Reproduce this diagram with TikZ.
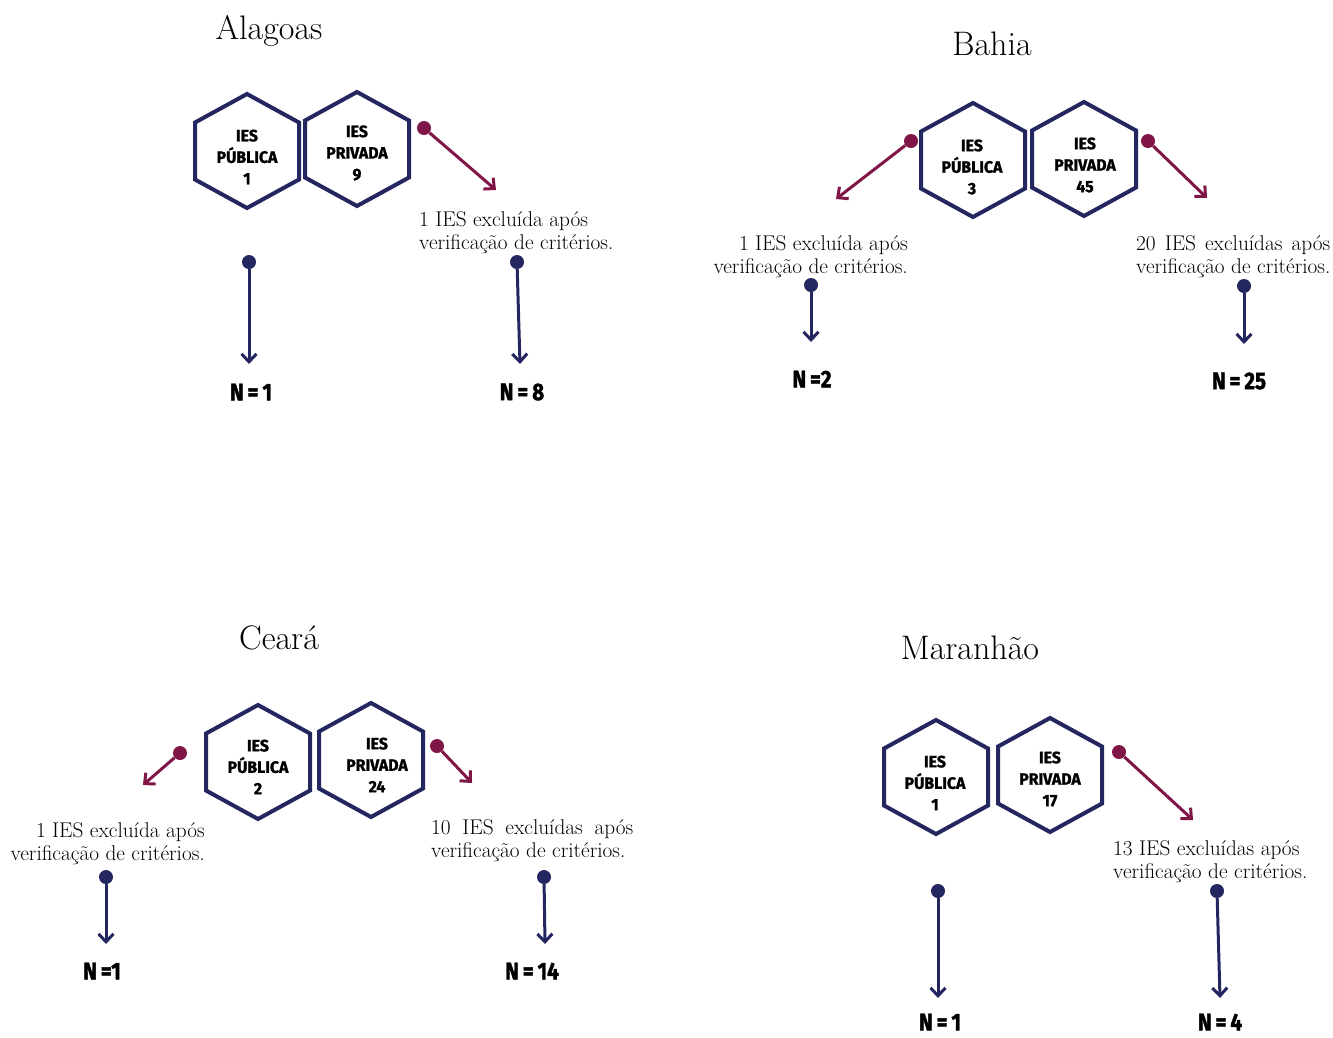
\documentclass[tikz,border=0pt]{standalone}
\usepackage{fontspec}
\setsansfont{Fira Sans}
\newfontfamily\heavyfont{Fira Sans}[FakeBold=1.6, FakeStretch=0.86]
\newfontfamily\hexfont{Fira Sans}[FakeBold=1.4, FakeStretch=0.96]
\usetikzlibrary{arrows.meta}
\definecolor{navy}{RGB}{36,38,96}
\definecolor{maroon}{RGB}{128,22,72}
\tikzset{
  hexline/.style={draw=navy, line width=4pt, line join=miter},
  hextext/.style={align=center, inner sep=0pt, font=\hexfont\bfseries\fontsize{16.5}{21.5}\selectfont},
  title/.style={font=\fontsize{34}{38}\selectfont, inner sep=0pt},
  note/.style={font=\fontsize{21.3}{23}\selectfont, inner sep=0pt},
  ntext/.style={font=\heavyfont\bfseries\fontsize{24}{24}\selectfont, inner sep=0pt},
  ndot/.style={circle, fill=navy, minimum size=14pt, inner sep=0pt},
  mdot/.style={circle, fill=maroon, minimum size=14pt, inner sep=0pt},
  narrow/.style={draw=navy, line width=3pt, -{Straight Barb[length=8pt, width=15pt, line width=3pt]}},
  marrow/.style={draw=maroon, line width=3pt, -{Straight Barb[length=8pt, width=15pt, line width=3pt]}},
}
\newcommand\hexa[6]{% cx cy name textx texty text
  \draw[hexline] (#1,#2-57) -- (#1+52,#2-28.5) -- (#1+52,#2+28.5) -- (#1,#2+57) -- (#1-52,#2+28.5) -- (#1-52,#2-28.5) -- cycle;
  \node[hextext] (#3) at (#4,#5) {#6};}
\begin{document}
\begin{tikzpicture}[x=1pt,y=-1pt]
\useasboundingbox[fill=white] (0,0) rectangle (1333,1037);

% ---------------- Alagoas ----------------
\node[title] (tA) at (269,31) {Alagoas};
\hexa{247}{151}{aP}{247}{157}{IES\\PÚBLICA\\1}
\hexa{357}{149}{aR}{357}{153}{IES\\PRIVADA\\9}
\node[mdot] (aRd) at (424,128) {};
\coordinate (aRe) at (496,190);
\draw[marrow] (aRd) -- (aRe);
\node[note, anchor=west, align=left] (aTx) at (419,233) {1 IES excluída após\\verificação de critérios.};
\node[ndot] (aPd) at (249,262) {};
\node[ndot] (aRd2) at (517,262) {};
\node[ntext] (aPn) at (251,392) {N\,=\,1};
\node[ntext] (aRn) at (522,392) {N\,=\,8};
\draw[narrow] (aPd) -- (249,364);
\draw[narrow] (aRd2) -- (520,364);

% ---------------- Bahia ----------------
\node[title] (tB) at (992,44) {Bahia};
\hexa{973}{160}{bP}{972}{167}{IES\\PÚBLICA\\3}
\hexa{1084}{159}{bR}{1085}{165}{IES\\PRIVADA\\45}
\node[mdot] (bPd) at (911,141) {};
\coordinate (bPe) at (836,199);
\draw[marrow] (bPd) -- (bPe);
\node[mdot] (bRd) at (1148,141) {};
\coordinate (bRe) at (1207,198);
\draw[marrow] (bRd) -- (bRe);
\node[note, anchor=east, align=right] (bPt) at (908,257) {1 IES excluída após\\verificação de critérios.};
\node[note, anchor=west, align=left] (bRt) at (1136,257) {\hbox to 194pt{20\hfill IES\hfill excluídas\hfill após}\\verificação de critérios.};
\node[ndot] (bPd2) at (811,285) {};
\node[ndot] (bRd2) at (1244,286) {};
\node[ntext] (bPn) at (812,379) {N\,=2};
\node[ntext] (bRn) at (1239,381) {N\,=\,25};
\draw[narrow] (bPd2) -- (811,342);
\draw[narrow] (bRd2) -- (1244,344);

% ---------------- Ceará ----------------
\node[title] (tC) at (279,638) {Ceará};
\hexa{258}{762}{cP}{258}{767}{IES\\PÚBLICA\\2}
\hexa{371}{760}{cR}{377}{765}{IES\\PRIVADA\\24}
\node[mdot] (cPd) at (180,753) {};
\coordinate (cPe) at (143,785);
\draw[marrow] (cPd) -- (cPe);
\node[mdot] (cRd) at (437,746) {};
\coordinate (cRe) at (472,783);
\draw[marrow] (cRd) -- (cRe);
\node[note, anchor=east, align=right] (cPt) at (205,844) {1 IES excluída após\\verificação de critérios.};
\node[note, anchor=west, align=left] (cRt) at (431,841) {\hbox to 202pt{10\hfill IES\hfill excluídas\hfill após}\\verificação de critérios.};
\node[ndot] (cPd2) at (106,877) {};
\node[ndot] (cRd2) at (544,877) {};
\node[ntext] (cPn) at (102,971) {N\,=1};
\node[ntext] (cRn) at (532,971) {N\,=\,14};
\draw[narrow] (cPd2) -- (106,944);
\draw[narrow] (cRd2) -- (545,944);

% ---------------- Maranhão ----------------
\node[title] (tM) at (970,648) {Maranhão};
\hexa{936}{777}{mP}{935}{783}{IES\\PÚBLICA\\1}
\hexa{1050}{775}{mR}{1050}{779}{IES\\PRIVADA\\17}
\node[mdot] (mRd) at (1119,752) {};
\coordinate (mRe) at (1193,820);
\draw[marrow] (mRd) -- (mRe);
\node[note, anchor=west, align=left] (mRt) at (1113,862) {13 IES excluídas após\\verificação de critérios.};
\node[ndot] (mPd) at (938,891) {};
\node[ndot] (mRd2) at (1217,891) {};
\node[ntext] (mPn) at (940,1022) {N\,=\,1};
\node[ntext] (mRn) at (1220,1022) {N\,=\,4};
\draw[narrow] (mPd) -- (938,998);
\draw[narrow] (mRd2) -- (1220,998);
\end{tikzpicture}
\end{document}
